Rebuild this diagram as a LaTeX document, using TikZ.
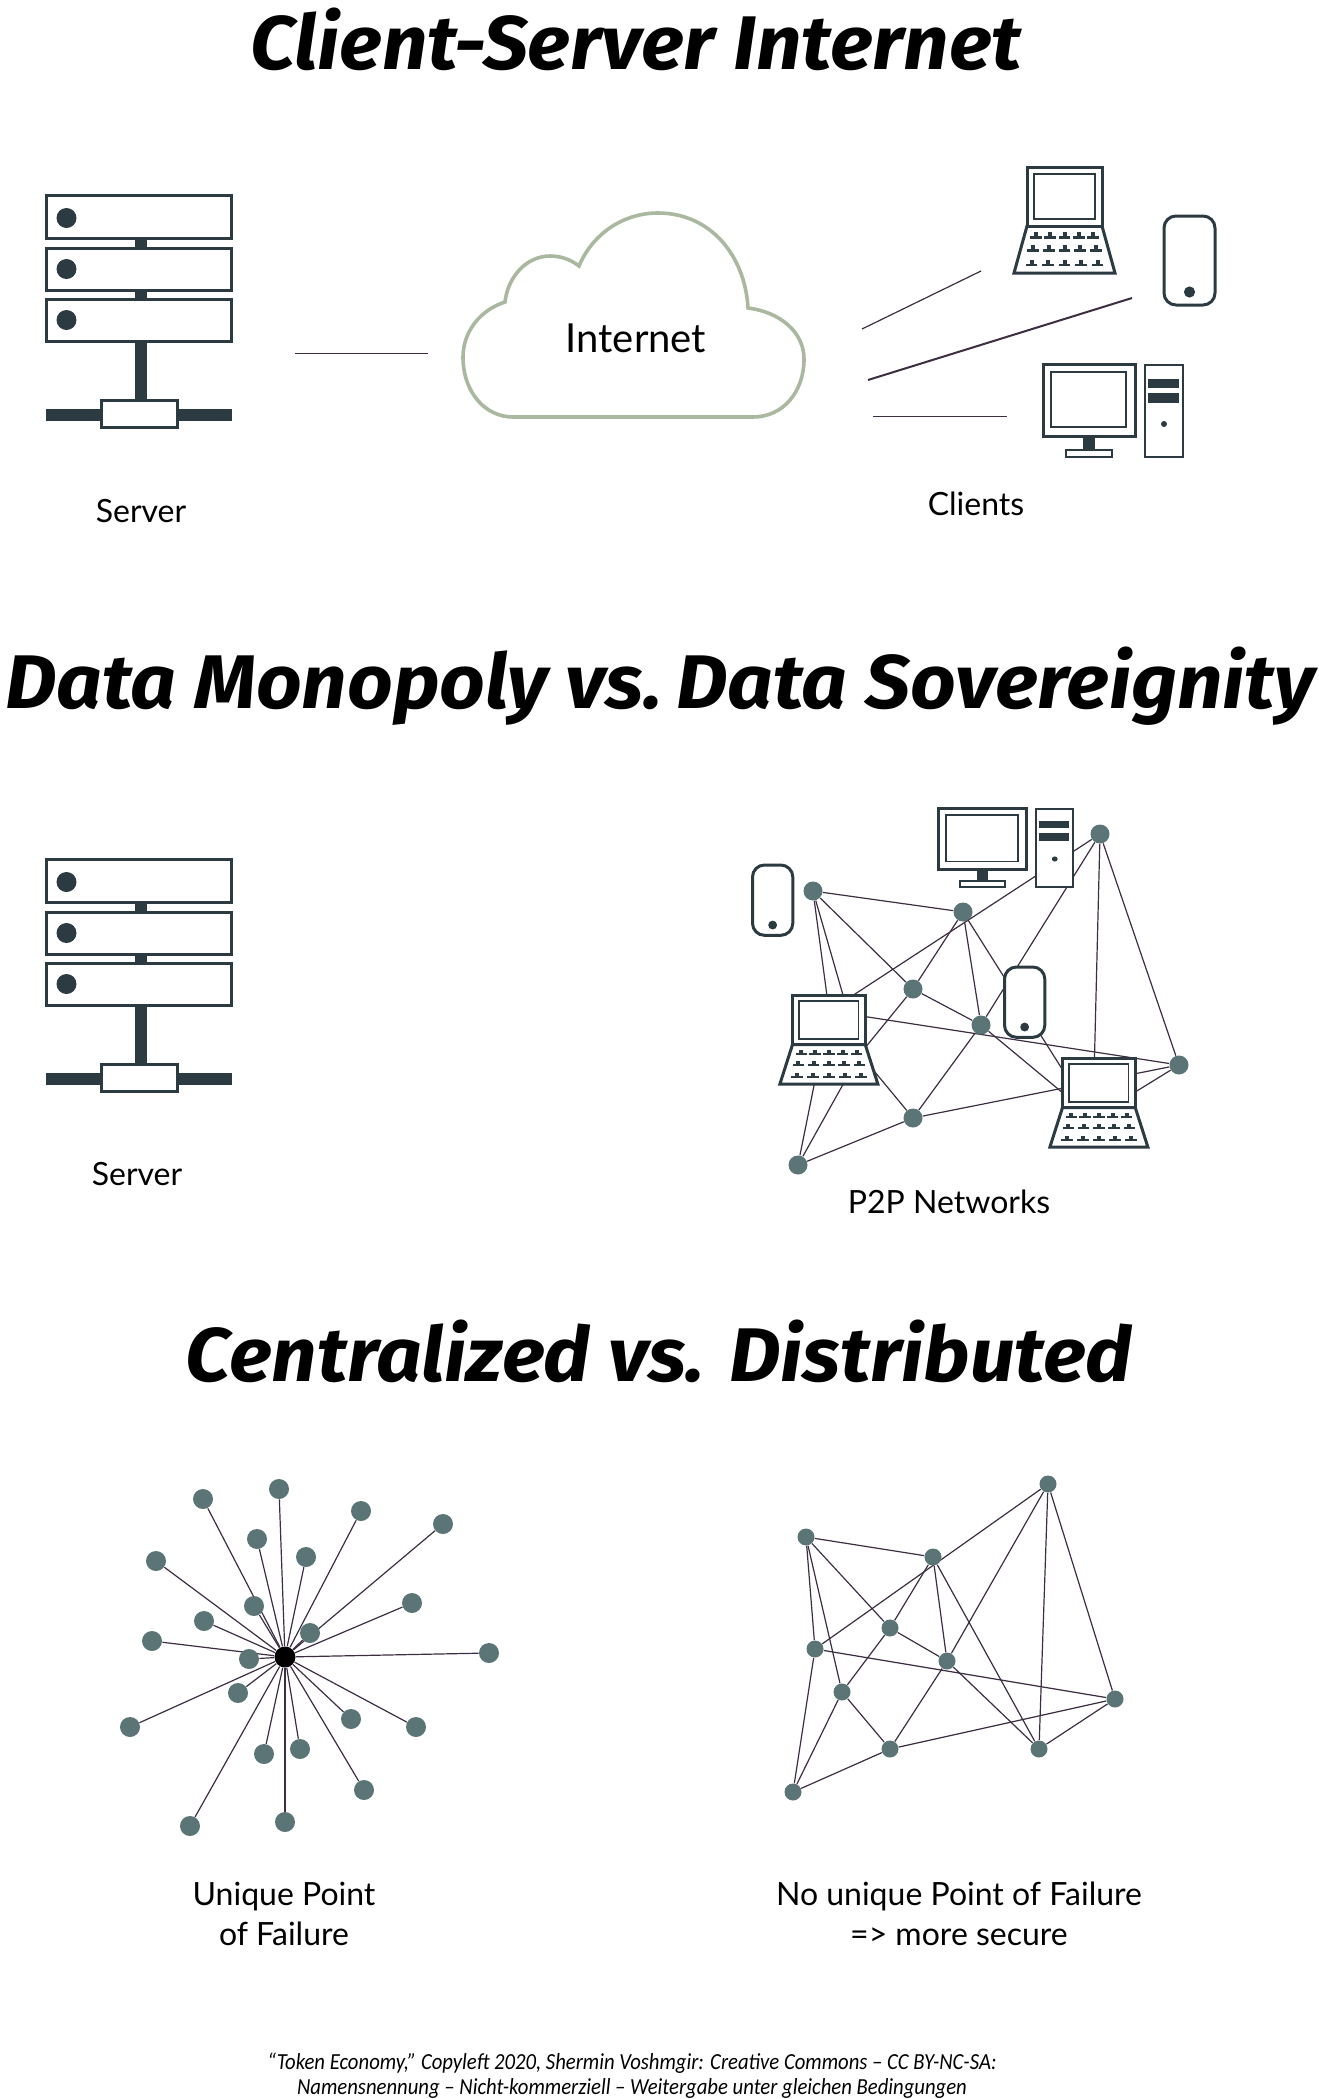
\documentclass[tikz,border=0pt]{standalone}
\usepackage{fontspec}
\usetikzlibrary{backgrounds}
\setmainfont{Lato}
\newfontfamily\titlefont[FakeStretch=1.05]{Fira Sans}
\newfontfamily\notefont[FakeStretch=0.9]{Carlito}
\definecolor{iconcol}{HTML}{2C3A42}
\definecolor{dotcol}{HTML}{5B7475}
\definecolor{linkcol}{HTML}{3D2D42}
\definecolor{cloudcol}{HTML}{ABB8A0}
\tikzset{
	icon/.style={draw=iconcol, line width=1.5pt, fill=white},
	peer/.style={circle, fill=dotcol, inner sep=0pt, minimum size=#1},
	peer/.default=10pt,
	hub/.style={circle, fill=black, inner sep=0pt, minimum size=10.5pt},
	link/.style={draw=linkcol, line width=0.6pt},
	heading/.style={font=\titlefont\fontsize{38}{44}\selectfont\bfseries\itshape},
	label/.style={font=\fontsize{16}{20}\selectfont, align=center, text=black},
}
\def\servericon(#1,#2){
	\begin{scope}[shift={(#1,#2)}]
		\fill[iconcol] (88.6,40) rectangle (100.6,210);
		\fill[iconcol] (0,214) rectangle (186,226);
		\draw[icon] (0,0) rectangle (185,43);
		\draw[icon] (0,53) rectangle (185,95);
		\draw[icon] (0,104) rectangle (185,146);
		\foreach \ypos in {22.6,73.6,124.6} {
			\fill[iconcol] (20.1,\ypos) circle (5pt);
		}
		\draw[icon] (55,205) rectangle (131,232);
	\end{scope}
}
\def\laptopicon(#1,#2)(#3,#4){
	\begin{scope}[shift={(#1,#2)}, xscale=#3, yscale=#4]
		\draw[icon] (0,59) -- (75,59) -- (88,106) -- (-13,106) -- cycle;
		\draw[icon] (0,0) rectangle (75,59);
		\draw[draw=iconcol, line width=0.9pt] (7,7) rectangle (68,52);
		\foreach \ypos/\dx in {70.7/14.3, 83.7/15.7, 98/16.5} {
			\foreach \k in {-2,...,2} {
				\fill[iconcol] ({37.5+\k*\dx-5.8},{\ypos-1.3}) rectangle ({37.5+\k*\dx+5.8},{\ypos+1.3});
				\fill[iconcol] ({37.5+\k*\dx-2},{\ypos-5.5}) rectangle ({37.5+\k*\dx+2},{\ypos});
			}
		}
	\end{scope}
}
\def\phoneicon(#1,#2)(#3){
	\begin{scope}[shift={(#1,#2)}, scale=#3]
		\draw[icon, rounded corners=6pt] (0,0) rectangle (51,89);
		\fill[iconcol] (25.5,76) circle (2.8pt);
	\end{scope}
}
\def\desktopicon(#1,#2)(#3,#4){
	\begin{scope}[shift={(#1,#2)}, xscale=#3, yscale=#4]
		\fill[iconcol] (40,72) rectangle (52,88);
		\draw[icon] (0,0) rectangle (92,72);
		\draw[draw=iconcol, line width=0.9pt] (8,8) rectangle (83,63);
		\draw[icon, line width=1pt] (23,86) rectangle (69,93);
		\draw[icon, line width=1pt] (102,1) rectangle (140,93);
		\fill[iconcol] (105,15) rectangle (136,24);
		\fill[iconcol] (105,29) rectangle (136,39);
		\fill[iconcol] (121,60) circle (1.5pt);
	\end{scope}
}

\begin{document}
\begin{tikzpicture}[x=0.5pt, y=-0.5pt]
	\useasboundingbox (0,0) rectangle (1318,2099);

	%%%%% TOP %%%%%
	\node[heading] (titleA) at (636,39) {Client-Server Internet};
	\servericon(46.4,195.4)
	\node[label] (srvA) at (141,511) {Server};

	\draw[draw=cloudcol, line width=1.8pt, fill=white] (513,417) -- (753,417)
		.. controls (783,417) and (804,392) .. (804,359)
		.. controls (804,332) and (780,312) .. (748,308)
		.. controls (745,255) and (710,213) .. (658,213)
		.. controls (622,213) and (592,235) .. (579,266)
		.. controls (570,259) and (560,256) .. (550,256)
		.. controls (527,256) and (508,276) .. (505,302)
		.. controls (480,310) and (463,332) .. (463,357)
		.. controls (463,392) and (485,417) .. (513,417) -- cycle;
	\node[label, font=\fontsize{20}{24}\selectfont] (inet) at (636,338) {Internet};

	\coordinate (srvOut) at (295,353);
	\coordinate (srvIn) at (428,353);
	\draw[link, line width=0.45pt] (srvOut) -- (srvIn);
	\coordinate (lapOut) at (862,329);
	\coordinate (lapIn) at (981,271);
	\draw[link] (lapOut) -- (lapIn);
	\coordinate (phoOut) at (868,380);
	\coordinate (phoIn) at (1132,298);
	\draw[link, line width=1pt] (phoOut) -- (phoIn);
	\coordinate (deskOut) at (873,416);
	\coordinate (deskIn) at (1007,416);
	\draw[link, line width=0.45pt] (deskOut) -- (deskIn);

	\laptopicon(1027,167)(1,1)
	\phoneicon(1164,216)(1)
	\desktopicon(1043,364)(1,1)
	\node[label] (clients) at (976,504) {Clients};

	%%%%% MIDDLE %%%%%
	\node[heading] (titleB) at (660,686) {Data Monopoly vs.\kern-2pt\ Data Sovereignity};
	\servericon(46.4,859.4)
	\node[label] (srvB) at (137,1174) {Server};

	\foreach \name/\xpos/\ypos in {a/813/891, b/963/912, c/1100/834, d/913/989, e/981/1025, f/1179/1065, g/913/1118, h/798/1165} {
		\node[peer=9.5pt] (\name) at (\xpos,\ypos) {};
	}
	\coordinate (i) at (829,1011);
	\coordinate (j) at (860,1054);
	\coordinate (k) at (1093,1118);
	\begin{scope}[on background layer]
		\foreach \from/\to in {a/b, a/d, a/i, a/j, b/d, b/e, b/k, i/c, c/e, c/k, c/f, d/e, d/j, e/g, e/k, i/f, i/h, j/h, j/g, g/h, g/f, k/f} {
			\draw[link] (\from) -- (\to);
		}
	\end{scope}
	\desktopicon(938,808)(0.965,0.85)
	\phoneicon(752.5,865)(0.79)
	\phoneicon(1004.5,967)(0.79)
	\laptopicon(792.5,995)(0.97,0.84)
	\laptopicon(1062.5,1058)(0.97,0.84)
	\node[label] (ptwop) at (949,1202) {P2P Networks};

	%%%%% BOTTOM %%%%%
	\node[heading] (titleC) at (659,1351) {Centralized vs. Distributed};

	\node[hub] (center) at (285,1657) {};
	\foreach \xpos/\ypos [count=\i] in {279/1489, 203/1499, 361/1511, 443/1524, 257/1539, 306/1557, 156/1561, 412/1603, 254/1606, 204/1621, 310/1633, 152/1641, 249/1659, 489/1653, 238/1693, 351/1719, 130/1727, 416/1727, 300/1749, 264/1754, 364/1790, 285/1822, 190/1826} {
		\node[peer] (u\i) at (\xpos,\ypos) {};
		\begin{scope}[on background layer]
			\draw[link] (u\i) -- (center);
		\end{scope}
	}
	\node[label] (unique) at (284,1914) {Unique Point\\of Failure};

	\foreach \name/\xpos/\ypos in {pa/806/1537, pb/933/1557, pc/1048/1484, pd/890/1628, pe/947/1661, pf/1115/1699, pg/890/1749, ph/793/1792, pi/815/1649, pj/842/1692, pk/1039/1749} {
		\node[peer=8.5pt] (\name) at (\xpos,\ypos) {};
	}
	\begin{scope}[on background layer]
		\foreach \from/\to in {pa/pb, pa/pd, pa/pi, pa/pj, pb/pd, pb/pe, pb/pk, pi/pc, pc/pe, pc/pk, pc/pf, pd/pe, pd/pj, pe/pg, pe/pk, pi/pf, pi/ph, pj/ph, pj/pg, pg/ph, pg/pf, pk/pf} {
			\draw[link] (\from) -- (\to);
		}
	\end{scope}
	\node[label] (nounique) at (959,1914) {No unique Point of Failure\\=> more secure};

	\node[label, font=\notefont\fontsize{11.5}{12.5}\selectfont\itshape] (note) at (632,2076) {“Token Economy,” Copyleft 2020, Shermin Voshmgir: Creative Commons – CC BY-NC-SA:\\Namensnennung – Nicht-kommerziell – Weitergabe unter gleichen Bedingungen};
\end{tikzpicture}
\end{document}
